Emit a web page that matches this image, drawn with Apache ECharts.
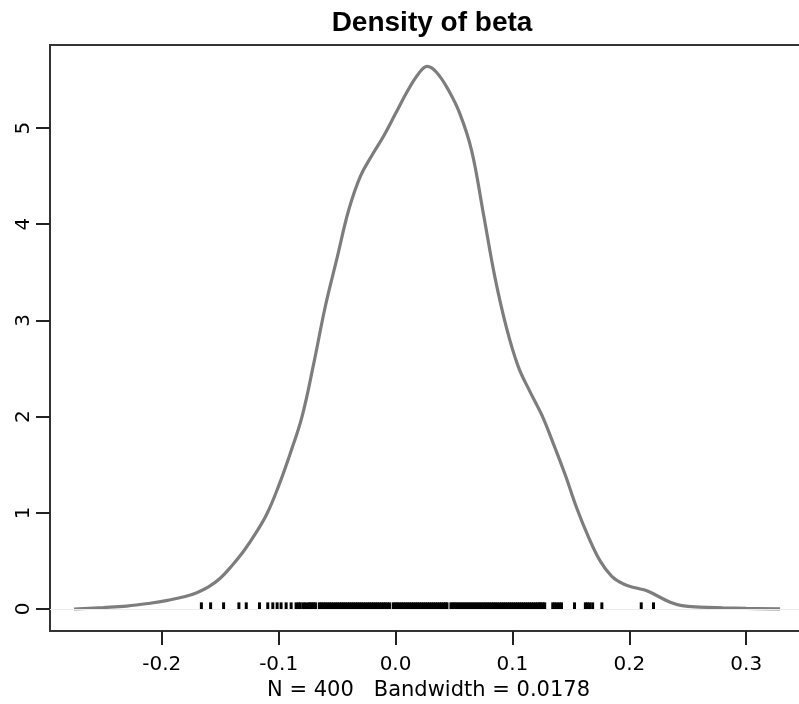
<!DOCTYPE html>
<html>
<head>
<meta charset="utf-8">
<script src="https://cdn.jsdelivr.net/npm/echarts@6/dist/echarts.min.js"></script>
<style>html,body{margin:0;padding:0;background:#fff}#c{width:799px;height:704px}</style>
</head>
<body>
<div id="c"></div>
<script>
// Density curve (x, density)
const densX = [-0.275, -0.25, -0.23, -0.21, -0.195, -0.18, -0.17, -0.16, -0.15, -0.14, -0.13, -0.12, -0.11, -0.10, -0.09, -0.08, -0.07, -0.06, -0.05, -0.04, -0.03, -0.02, -0.01, 0.00, 0.01, 0.02, 0.027, 0.035, 0.045, 0.055, 0.065, 0.075, 0.085, 0.095, 0.105, 0.115, 0.125, 0.135, 0.145, 0.155, 0.165, 0.175, 0.185, 0.195, 0.205, 0.215, 0.225, 0.235, 0.245, 0.26, 0.28, 0.30, 0.329];
const densY = [0.00, 0.015, 0.03, 0.06, 0.09, 0.13, 0.17, 0.23, 0.32, 0.45, 0.60, 0.78, 0.99, 1.28, 1.62, 2.00, 2.55, 3.15, 3.65, 4.15, 4.50, 4.72, 4.92, 5.15, 5.38, 5.57, 5.64, 5.58, 5.40, 5.15, 4.77, 4.12, 3.45, 2.92, 2.52, 2.26, 2.02, 1.72, 1.40, 1.05, 0.75, 0.50, 0.34, 0.26, 0.22, 0.19, 0.13, 0.07, 0.035, 0.02, 0.012, 0.006, 0.002];

const rugX = [
  -0.1661, -0.1582, -0.1471, -0.1340, -0.1277, -0.1164, -0.1093, -0.1050, -0.1013, -0.0979, -0.0936, -0.0893, -0.0851,
  -0.0830, -0.0815, -0.0790, -0.0770, -0.0745, -0.0730, -0.0715, -0.0700, -0.0685,
  -0.0652, -0.0636, -0.0619, -0.0601, -0.0585, -0.0566, -0.0550, -0.0533, -0.0515, -0.0498, -0.0481, -0.0463, -0.0447, -0.0430, -0.0412, -0.0395, -0.0378, -0.0361, -0.0344, -0.0327, -0.0310, -0.0293, -0.0276, -0.0259, -0.0241, -0.0224, -0.0207, -0.0190, -0.0173, -0.0156, -0.0139, -0.0121, -0.0104, -0.0087, -0.0070, -0.0052,
  -0.0020, -0.0003, 0.0014, 0.0031, 0.0049, 0.0066, 0.0083, 0.0100, 0.0118, 0.0135, 0.0152, 0.0169, 0.0187, 0.0204, 0.0221, 0.0238, 0.0256, 0.0273, 0.0290, 0.0307, 0.0325, 0.0342, 0.0359, 0.0376, 0.0394, 0.0411, 0.0428, 0.0440,
  0.0474, 0.0491, 0.0508, 0.0525, 0.0543, 0.0560, 0.0577, 0.0594, 0.0612, 0.0629, 0.0646, 0.0663, 0.0681, 0.0698, 0.0715, 0.0732, 0.0750, 0.0767, 0.0784, 0.0801, 0.0819, 0.0836, 0.0853, 0.0870, 0.0888, 0.0905, 0.0922, 0.0939, 0.0957, 0.0974, 0.0991, 0.1008, 0.1026, 0.1043, 0.1060, 0.1077, 0.1095, 0.1112, 0.1129, 0.1146, 0.1164, 0.1181, 0.1198, 0.1215, 0.1232, 0.1242,
  0.1260, 0.1276, 0.1345, 0.1360, 0.1380, 0.1400, 0.1420, 0.1531, 0.1624, 0.1640, 0.1660, 0.1686, 0.1765, 0.2102, 0.2207
];

const xTicks = [-0.2, -0.1, 0.0, 0.1, 0.2, 0.3];
const yTicks = [0, 1, 2, 3, 4, 5];
const titleText = 'Density of beta';
const xLabelText = 'N = 400   Bandwidth = 0.0178';

const chart = echarts.init(document.getElementById('c'), null, {renderer: 'canvas'});
const tickFont = {fontFamily: 'DejaVu Sans', fontSize: 20, color: '#000'};
chart.setOption({
  animation: false,
  backgroundColor: '#fff',
  title: {
    text: titleText,
    left: 427, top: 4, textAlign: 'center',
    textStyle: {fontFamily: 'Liberation Sans', fontWeight: 'bold', fontSize: 28, color: '#000'}
  },
  grid: {
    left: 50, top: 45, right: -8, bottom: 73,
    show: true, borderColor: '#333', borderWidth: 2, backgroundColor: 'transparent',
    containLabel: false, outerBoundsMode: 'none'
  },
  xAxis: {
    type: 'value', min: -0.2956, max: 0.352,
    splitLine: {show: false},
    axisLine: {show: false, onZero: false},
    axisTick: {show: true, length: 14, customValues: xTicks, lineStyle: {color: '#222', width: 2}},
    axisLabel: Object.assign({customValues: xTicks, margin: 24, formatter: v => v.toFixed(1)}, tickFont),
    name: xLabelText, nameLocation: 'middle', nameGap: 47,
    nameTextStyle: {fontFamily: 'DejaVu Sans', fontSize: 21, color: '#000'}
  },
  yAxis: {
    type: 'value', min: -0.2287, max: 5.863,
    splitLine: {show: false},
    axisLine: {show: false, onZero: false},
    axisTick: {show: true, length: 14, customValues: yTicks, lineStyle: {color: '#222', width: 2}},
    axisLabel: Object.assign({customValues: yTicks, margin: 16, rotate: 90, formatter: v => String(v)}, tickFont)
  },
  series: [
    {
      type: 'line',
      data: densX.map((x, i) => [x, densY[i]]),
      smooth: 0.4,
      showSymbol: false,
      lineStyle: {color: '#7d7d7d', width: 3.2},
      markLine: {
        silent: true, symbol: 'none', label: {show: false},
        lineStyle: {color: '#ececec', width: 1, type: 'solid'},
        data: [{yAxis: 0}]
      },
      z: 2
    },
    {
      type: 'scatter',
      data: rugX.map(x => [x, 0.03]),
      symbol: 'rect',
      symbolSize: [3, 7.5],
      itemStyle: {color: '#000', opacity: 1},
      z: 3
    }
  ]
});
</script>
</body>
</html>
